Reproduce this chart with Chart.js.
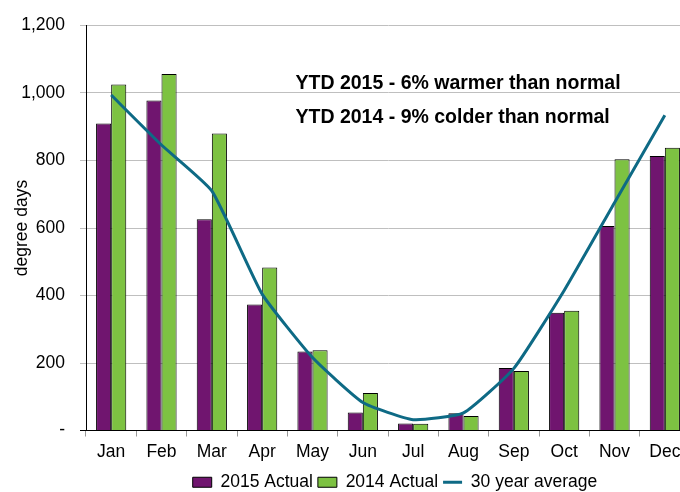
<!DOCTYPE html>
<html><head><meta charset="utf-8">
<script src="https://cdn.jsdelivr.net/npm/chart.js@4/dist/chart.umd.min.js"></script>
<style>
html,body{margin:0;padding:0;background:#fff;overflow:hidden;}
#wrap{width:680px;height:492px;overflow:hidden;position:relative;}
#box{width:790px;height:492px;position:absolute;left:0;top:0;}
</style></head>
<body>
<div id="wrap"><div id="box"><canvas id="c"></canvas></div></div>
<script>
const months = ['Jan','Feb','Mar','Apr','May','Jun','Jul','Aug','Sep','Oct','Nov','Dec'];
const actual2015 = [910, 978, 626, 373, 234, 53, 21, 51, 185, 349, 606, 813];
const actual2014 = [1025, 1056, 880, 483, 238, 111, 20, 43, 176, 355, 804, 838];
const avg30 = [994, 846, 710, 404, 216, 83, 32, 52, 184, 415, 675, 934];
const notes = ['YTD 2015 - 6% warmer than normal', 'YTD 2014 - 9% colder than normal'];
const yTicks = [0, 200, 400, 600, 800, 1000, 1200];

const FONT = 'Liberation Sans, Arial, sans-serif';
const FS = 17.5;

const notesPlugin = {
  id: 'notes',
  afterLayout(chart) {
    if (chart.legend) { chart.legend.left += 50; chart.legend.right += 50; }
  },
  afterDatasetsDraw(chart) {
    const ctx = chart.ctx;
    ctx.save();
    ctx.font = 'bold 19.5px ' + FONT;
    ctx.fillStyle = '#000';
    ctx.textBaseline = 'middle';
    ctx.textAlign = 'left';
    const x = chart.scales.x.getPixelForValue(4) - 17;
    ctx.fillText(notes[0], x, chart.scales.y.getPixelForValue(1029));
    ctx.fillText(notes[1], x, chart.scales.y.getPixelForValue(926));
    ctx.restore();
  }
};

new Chart(document.getElementById('c'), {
  type: 'bar',
  data: {
    labels: months,
    datasets: [
      {label: '2015 Actual', data: actual2015, backgroundColor: '#70156F', borderColor: '#000', borderWidth: 1, pointStyle: 'rect', order: 2},
      {label: '2014 Actual', data: actual2014, backgroundColor: '#7DC242', borderColor: '#000', borderWidth: 1, pointStyle: 'rect', order: 2},
      {label: '30 year average', type: 'line', data: avg30, borderColor: '#0E6A85', backgroundColor: '#0E6A85', borderWidth: 3, pointRadius: 0, pointStyle: 'line', tension: 0.15, order: 1}
    ]
  },
  options: {
    responsive: true,
    maintainAspectRatio: false,
    animation: false,
    layout: {padding: {left: 0, right: 100, top: 15, bottom: -9}},
    datasets: {bar: {categoryPercentage: 0.6, barPercentage: 1.0}},
    plugins: {
      legend: {
        position: 'bottom',
        labels: {
          usePointStyle: true, pointStyleWidth: 19, boxHeight: 10,
          padding: 5, color: '#000',
          font: {family: FONT, size: FS},
          sort: (a, b) => a.datasetIndex - b.datasetIndex
        }
      },
      tooltip: {enabled: false}
    },
    scales: {
      x: {
        offset: true,
        afterFit(s) { s.height = 38; },
        grid: {offset: true, drawOnChartArea: false, color: '#999', tickLength: 6},
        border: {color: '#000', width: 1},
        ticks: {color: '#000', font: {family: FONT, size: FS}, padding: 5}
      },
      y: {
        min: 0, max: 1200,
        afterBuildTicks(s) { s.ticks = yTicks.map(v => ({value: v})); },
        afterFit(s) { s.width = 86; },
        grid: {color: (c) => c.tick && c.tick.value === 0 ? '#000' : '#BFBFBF', tickLength: 6, lineWidth: 1},
        border: {color: '#000', width: 1},
        title: {display: true, text: 'degree days', color: '#000', font: {family: FONT, size: FS}, padding: {top: 12, bottom: 0}},
        ticks: {
          color: '#000', font: {family: FONT, size: FS}, padding: 15,
          callback: (v) => v === 0 ? '-' : v.toLocaleString('en-US')
        }
      }
    }
  },
  plugins: [notesPlugin]
});
</script>
</body></html>
